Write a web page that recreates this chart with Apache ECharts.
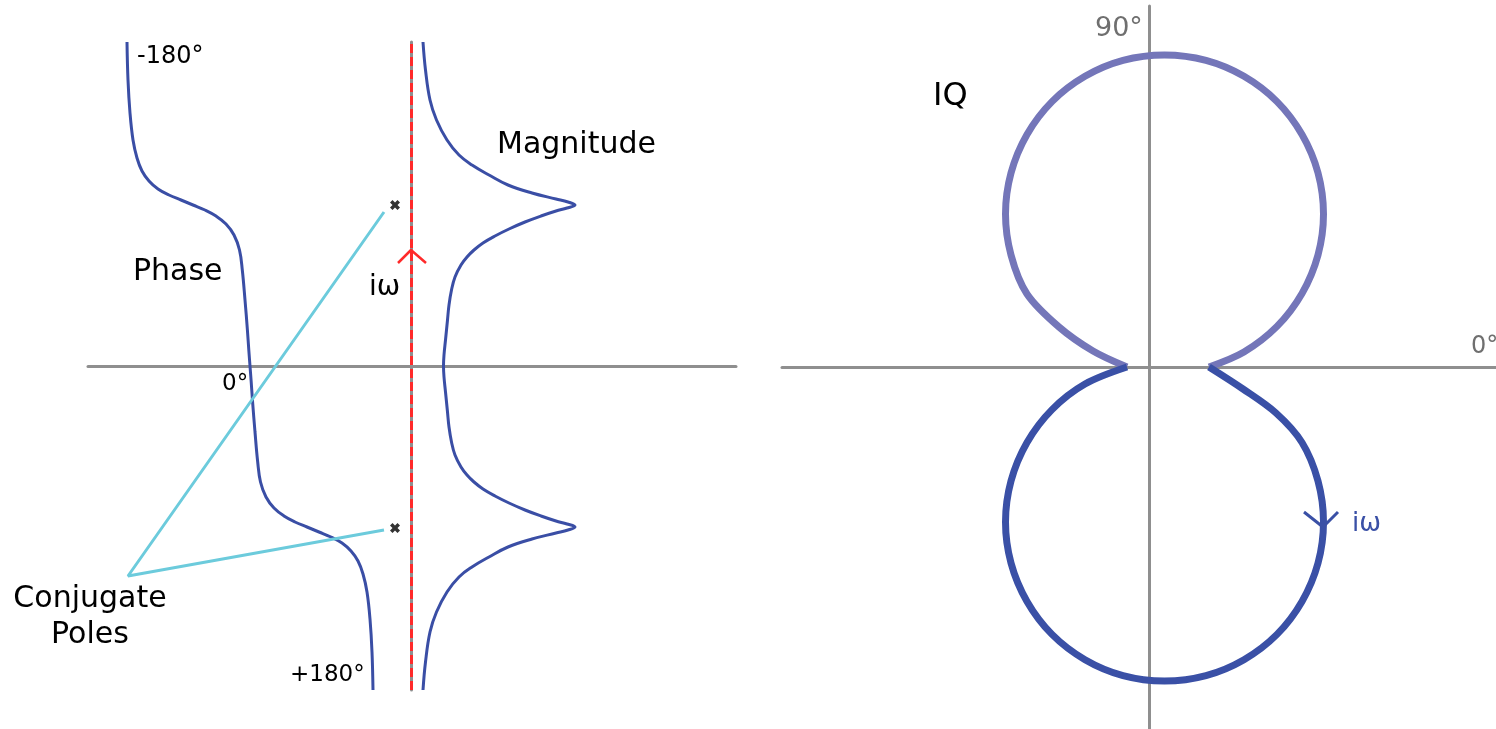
<!DOCTYPE html>
<html>
<head>
<meta charset="utf-8">
<title>Conjugate poles: phase, magnitude and IQ</title>
<script src="https://cdn.jsdelivr.net/npm/echarts@6/dist/echarts.min.js"></script>
<style>
  html, body { margin: 0; padding: 0; background: #fff; }
  #chart { width: 1496px; height: 729px; }
</style>
</head>
<body>
<div id="chart"></div>
<script>
// left panel: iω runs up the vertical axis, phase / magnitude go sideways
const phaseFreq = [324, 286, 253, 226, 208, 195, 185, 177, 171, 166, 161, 156, 150, 142, 131, 116, 96, 66, 36, 16, 0,
  -16, -36, -66, -96, -116, -131, -142, -150, -156, -161, -166, -171, -177, -185, -195, -208, -226, -253, -286, -324];
const phaseVal = [-284, -283, -281, -278, -274, -269, -262, -253, -242, -230, -218, -206, -195, -185, -177, -171.5, -168.7, -166, -163.6, -162.2, -161,
  -159.8, -158.4, -156, -153.3, -150.5, -145, -137, -127, -116, -104, -92, -80, -69, -60, -53, -48, -44, -41, -39, -38];

const magFreq = [324, 296, 266, 246, 226, 211, 201, 191, 181, 173, 167, 164, 161, 158, 155, 150, 144, 137, 130, 123, 116, 109, 101, 89, 76, 61, 46, 26, 11, 0,
  -11, -26, -46, -61, -76, -89, -101, -109, -116, -123, -130, -137, -144, -150, -155, -158, -161, -164, -167, -173, -181, -191, -201, -211, -226, -246, -266, -296, -324];
const magVal = [12, 14.5, 19, 25.5, 36, 48, 61, 78, 97, 121, 145, 157, 164, 156, 145, 130, 114, 98, 84, 72, 63, 56, 50, 44, 40.5, 38, 36.5, 34.5, 33, 32.5,
  33, 34.5, 36.5, 38, 40.5, 44, 50, 56, 63, 72, 84, 98, 114, 130, 145, 156, 164, 157, 145, 121, 97, 78, 61, 48, 36, 25.5, 19, 14.5, 12];

// the two poles and the leader lines of the "Conjugate Poles" label
const poleRe = [-16, -16];
const poleIm = [161, -162];
const leaderRe = [-27, -283, -27];
const leaderIm = [154, -210, -164];
// direction mark on the iω axis
const axisArrowX = [-13, 0, 15];
const axisArrowY = [103, 116, 103];

// right panel: IQ plot, both lobes start and end on the I axis
const upperI = [-22, -56, -90, -122, -138, -143.5, -138, -122, -97, -64, -26, 15.5,
  57, 95, 128, 153, 169, 174.5, 169, 153, 128, 95, 60];
const upperQ = [0, 16, 40, 73, 112, 153, 194, 232.5, 265.4, 290.7, 306.6, 312,
  306.6, 290.7, 265.4, 232.5, 194.2, 153, 112, 73.5, 40.6, 15, 0];
const lowerI = [-22, -64, -97, -122, -138, -143.5, -138, -122, -97, -64, -26, 15.5,
  57, 95, 128, 153, 169, 174.5, 169, 153, 127, 94, 60];
const lowerQ = [0, -17, -42.6, -75.5, -114, -155, -196, -234.5, -267.4, -292.7, -308.6, -314,
  -308.6, -292.7, -267.4, -234.5, -196.2, -155, -114, -75.5, -46, -22, 0];
const iqArrowI = [155, 174, 189];
const iqArrowQ = [-145, -160, -145];

function zip(xs, ys) {
  return xs.map((x, i) => [x, ys[i]]);
}

const axisGray = '#8f8f8f';
const curveBlue = '#3a4ea5';
const font = "'DejaVu Sans', sans-serif";

function plainAxis(min, max, idx) {
  return {
    type: 'value', gridIndex: idx, min: min, max: max,
    axisLine: { show: true, onZero: true, lineStyle: { color: axisGray, width: 3 } },
    axisTick: { show: false }, axisLabel: { show: false }, splitLine: { show: false }
  };
}

function label(text, x, y, size, color, align) {
  return {
    type: 'text', x: x, y: y, silent: true, z: 100,
    style: {
      text: text, fill: color, font: size + 'px ' + font,
      align: align, verticalAlign: 'middle',
      textAlign: align, textVerticalAlign: 'middle'
    }
  };
}

const chart = echarts.init(document.getElementById('chart'), null, { renderer: 'canvas' });

chart.setOption({
  animation: false,
  backgroundColor: '#ffffff',
  grid: [
    { left: 88, top: 42, width: 648, height: 648 },
    { left: 782, top: 6, width: 714, height: 723 }
  ],
  xAxis: [plainAxis(-323, 325, 0), plainAxis(-367, 347, 1)],
  yAxis: [plainAxis(-324, 324, 0), plainAxis(-362, 361, 1)],
  series: [
    {
      // red dashed iω axis
      type: 'line', xAxisIndex: 0, yAxisIndex: 0, data: [], silent: true,
      markLine: {
        silent: true, symbol: 'none', label: { show: false },
        lineStyle: { color: '#ff2a2a', width: 3, type: [9, 4] },
        data: [{ xAxis: 0 }]
      }
    },
    {
      name: 'Phase', type: 'line', xAxisIndex: 0, yAxisIndex: 0,
      data: zip(phaseVal, phaseFreq), smooth: 0.4, showSymbol: false, clip: false,
      lineStyle: { color: curveBlue, width: 3 }
    },
    {
      name: 'Magnitude', type: 'line', xAxisIndex: 0, yAxisIndex: 0,
      data: zip(magVal, magFreq), smooth: 0.4, showSymbol: false, clip: false,
      lineStyle: { color: curveBlue, width: 3 }
    },
    {
      type: 'line', xAxisIndex: 0, yAxisIndex: 0,
      data: zip(leaderRe, leaderIm), showSymbol: false,
      lineStyle: { color: '#6ccbdc', width: 3 }
    },
    {
      type: 'line', xAxisIndex: 0, yAxisIndex: 0,
      data: zip(axisArrowX, axisArrowY), showSymbol: false, z: 5,
      lineStyle: { color: '#ff2a2a', width: 2.5 }
    },
    {
      type: 'scatter', xAxisIndex: 0, yAxisIndex: 0,
      data: zip(poleRe, poleIm), symbolSize: 10,
      symbol: 'path://M0,2.5 L2.5,0 L5,2.5 L7.5,0 L10,2.5 L7.5,5 L10,7.5 L7.5,10 L5,7.5 L2.5,10 L0,7.5 L2.5,5 Z',
      itemStyle: { color: '#000' }
    },
    {
      type: 'line', xAxisIndex: 1, yAxisIndex: 1,
      data: zip(upperI, upperQ), smooth: 0.33, showSymbol: false,
      lineStyle: { color: '#7476b9', width: 7 }
    },
    {
      type: 'line', xAxisIndex: 1, yAxisIndex: 1,
      data: zip(lowerI, lowerQ), smooth: 0.33, showSymbol: false,
      lineStyle: { color: '#3a50a6', width: 7 }
    },
    {
      type: 'line', xAxisIndex: 1, yAxisIndex: 1,
      data: zip(iqArrowI, iqArrowQ), showSymbol: false,
      lineStyle: { color: '#3a50a6', width: 3 }
    }
  ],
  graphic: [
    label('-180°', 137, 57, 24, '#000', 'left'),
    label('Phase', 133, 272, 30, '#000', 'left'),
    label('0°', 222, 384, 23, '#000', 'left'),
    label('iω', 369, 288, 28, '#000', 'left'),
    label('Magnitude', 497, 145, 30, '#000', 'left'),
    label('Conjugate', 90, 599, 30, '#000', 'center'),
    label('Poles', 90, 635, 30, '#000', 'center'),
    label('+180°', 290, 675, 23, '#000', 'left'),
    label('90°', 1095, 29, 27, '#6f6f6f', 'left'),
    label('IQ', 933, 97, 32, '#000', 'left'),
    label('0°', 1471, 347, 24, '#6f6f6f', 'left'),
    label('iω', 1352, 524, 26, '#3a50a6', 'left')
  ]
});
</script>
</body>
</html>
